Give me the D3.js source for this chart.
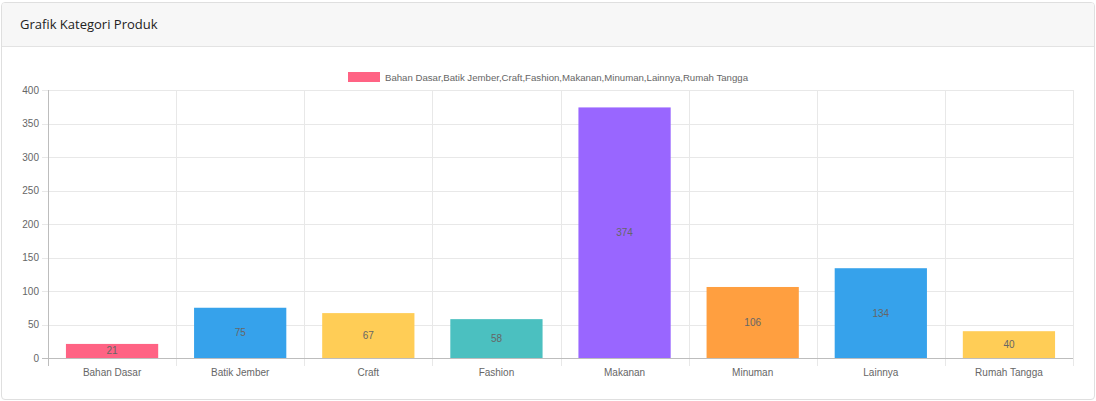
<!DOCTYPE html>
<html>
<head>
<meta charset="utf-8">
<script src="https://cdn.jsdelivr.net/npm/d3@7"></script>
<style>
  body { margin: 0; background: #fff; font-family: "Liberation Sans", Arial, sans-serif; }
  .card { position: absolute; left: 1px; top: 2px; width: 1092px; height: 396px;
          border: 1px solid #dfdfdf; border-radius: 4px; overflow: hidden; background: #fff; }
  .card-header { height: 43px; background: #f7f7f7; border-bottom: 1px solid #e3e3e3; }
  .card-header h3 { margin: 0; padding: 0 0 0 18px; line-height: 43px; font-size: 13px;
          font-weight: normal; color: #222; font-family: "Open Sans", Lato, sans-serif; }
  svg { position: absolute; left: 0; top: 0; }
</style>
</head>
<body>
<div class="card"><div class="card-header"><h3>Grafik Kategori Produk</h3></div></div>
<div id="chart"></div>
<script>
const categories = ["Bahan Dasar", "Batik Jember", "Craft", "Fashion", "Makanan", "Minuman", "Lainnya", "Rumah Tangga"];
const values = [21, 75, 67, 58, 374, 106, 134, 40];
const colors = ["#ff6384", "#36a2eb", "#ffcd56", "#4bc0c0", "#9966ff", "#ff9f40", "#36a2eb", "#ffcd56"];
const yTicks = [0, 50, 100, 150, 200, 250, 300, 350, 400];

const width = 1096, height = 401;
const margin = {left: 48, right: 23, top: 90, bottom: 43};

const svg = d3.select("#chart").append("svg")
  .attr("width", width)
  .attr("height", height)

// bars take 0.72 of each category (0.9 * 0.8)
const x = d3.scaleBand()
  .domain(categories)
  .range([margin.left, width - margin.right])
  .paddingInner(0.28)
  .paddingOuter(0.14);

// band for gridlines (full category width)
const xCat = d3.scaleBand()
  .domain(categories)
  .range([margin.left, width - margin.right]);

const y = d3.scaleLinear()
  .domain([0, 400])
  .range([height - margin.bottom, margin.top]);

// horizontal grid
svg.append("g")
  .selectAll("line")
  .data(yTicks.filter(d => d > 0))
  .enter().append("line")
  .attr("x1", margin.left - 6)
  .attr("x2", width - margin.right)
  .attr("y1", d => Math.round(y(d)) + 0.5)
  .attr("y2", d => Math.round(y(d)) + 0.5)
  .attr("stroke", "#e8e8e8");

// vertical grid
const vLines = categories.map(c => xCat(c)).concat([width - margin.right]);
svg.append("g")
  .selectAll("line")
  .data(vLines.slice(1))
  .enter().append("line")
  .attr("x1", d => Math.round(d) + 0.5)
  .attr("x2", d => Math.round(d) + 0.5)
  .attr("y1", margin.top)
  .attr("y2", y(0) + 8)
  .attr("stroke", "#e8e8e8");

// bars
svg.append("g")
  .selectAll("rect")
  .data(values)
  .enter().append("rect")
  .attr("x", (d, i) => x(categories[i]))
  .attr("width", x.bandwidth())
  .attr("y", d => y(d))
  .attr("height", d => y(0) - y(d))
  .attr("fill", (d, i) => colors[i]);

// value labels
svg.append("g")
  .selectAll("text")
  .data(values)
  .enter().append("text")
  .attr("x", (d, i) => x(categories[i]) + x.bandwidth() / 2)
  .attr("y", d => (y(d) + y(0)) / 2 + 3.5)
  .attr("text-anchor", "middle")
  .attr("font-size", 10)
  .attr("fill", "#666")
  .text(d => d);

// y axis
svg.append("line")
  .attr("x1", margin.left + 0.5).attr("x2", margin.left + 0.5)
  .attr("y1", margin.top).attr("y2", y(0) + 8)
  .attr("stroke", "#bdbdbd");
svg.append("line")
  .attr("x1", margin.left - 6).attr("x2", width - margin.right)
  .attr("y1", Math.round(y(0)) + 0.5).attr("y2", Math.round(y(0)) + 0.5)
  .attr("stroke", "#bdbdbd");

svg.append("g")
  .selectAll("text")
  .data(yTicks)
  .enter().append("text")
  .attr("x", margin.left - 9)
  .attr("y", d => y(d) + 3.5)
  .attr("text-anchor", "end")
  .attr("font-size", 10)
  .attr("fill", "#666")
  .text(d => d);

// x labels
svg.append("g")
  .selectAll("text")
  .data(categories)
  .enter().append("text")
  .attr("x", d => xCat(d) + xCat.bandwidth() / 2)
  .attr("y", y(0) + 18)
  .attr("text-anchor", "middle")
  .attr("font-size", 10)
  .attr("fill", "#666")
  .text(d => d);

// legend
const legend = svg.append("g");
legend.append("rect")
  .attr("x", 348).attr("y", 72)
  .attr("width", 32).attr("height", 10)
  .attr("fill", colors[0]);
legend.append("text")
  .attr("x", 385).attr("y", 80.5)
  .attr("font-size", 9.6)
  .attr("textLength", 363)
  .attr("lengthAdjust", "spacingAndGlyphs")
  .attr("fill", "#666")
  .text(categories.join(","));
</script>
</body>
</html>
